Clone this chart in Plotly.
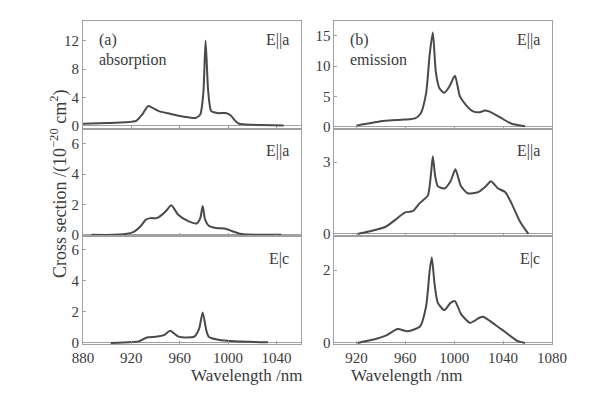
import plotly.graph_objects as go
from plotly.subplots import make_subplots

# (a) absorption, wavelength in nm
abs_a_x = [880, 900, 915, 924, 929, 934, 939, 944, 952, 960, 967, 973, 977, 979.5, 981.4, 983.5, 986, 991, 998, 1002, 1006, 1009, 1020, 1046]
abs_a_y = [0.3, 0.4, 0.5, 0.7, 1.6, 2.8, 2.4, 2.0, 1.7, 1.4, 1.2, 1.1, 1.6, 4.5, 12.0, 5.0, 2.1, 1.8, 1.8, 1.5, 0.7, 0.3, 0.15, 0.05]

abs_b_x = [887, 905, 915, 922, 928, 932, 936, 941, 945, 949, 953, 959, 967, 974, 977, 979, 981, 984, 990, 998, 1003, 1011, 1025, 1044]
abs_b_y = [0.0, 0.0, 0.05, 0.2, 0.6, 1.0, 1.1, 1.1, 1.3, 1.6, 1.95, 1.3, 0.9, 0.75, 1.1, 1.9, 1.0, 0.6, 0.45, 0.4, 0.25, 0.05, 0.0, 0.0]

abs_c_x = [903, 918, 926, 933, 940, 947, 952, 959, 966, 972, 976, 979, 982, 984, 992, 1006, 1033]
abs_c_y = [0.0, 0.05, 0.1, 0.35, 0.4, 0.5, 0.78, 0.4, 0.35, 0.4, 0.9, 1.96, 0.8, 0.4, 0.2, 0.1, 0.05]

# (b) emission
em_a_x = [920, 943, 959, 968, 972.6, 977, 980, 982.5, 985, 988, 992, 996, 1000.6, 1004.7, 1010, 1015, 1021, 1025, 1029, 1038, 1047, 1058]
em_a_y = [0.2, 1.0, 1.2, 1.4, 2.2, 5.5, 12.0, 15.5, 9.0, 6.3, 5.6, 6.6, 8.4, 5.0, 3.5, 2.6, 2.4, 2.7, 2.5, 1.5, 0.5, 0.1]

em_b_x = [921, 930, 944, 952, 960, 966, 972, 978.4, 981, 982.5, 984.5, 986.6, 992, 997, 1001, 1005.5, 1011, 1019.5, 1026, 1030, 1036, 1041.7, 1046.7, 1054, 1060.7]
em_b_y = [0.0, 0.1, 0.3, 0.6, 0.9, 0.95, 1.3, 1.6, 2.5, 3.25, 2.4, 2.0, 1.9, 2.2, 2.7, 2.0, 1.7, 1.75, 2.0, 2.2, 1.9, 1.75, 1.3, 0.5, 0.0]

em_c_x = [921, 935, 944, 953.7, 962, 972, 977, 980, 981.7, 984, 986.6, 992, 997, 1000.6, 1005.5, 1013, 1021, 1023.7, 1033.5, 1041.7, 1052, 1058]
em_c_y = [0.0, 0.1, 0.2, 0.38, 0.32, 0.45, 1.0, 2.0, 2.35, 1.6, 1.1, 0.9, 1.1, 1.15, 0.8, 0.55, 0.7, 0.72, 0.5, 0.3, 0.05, 0.0]

left_ticks = [880, 920, 960, 1000, 1040]
right_ticks = [920, 960, 1000, 1040, 1080]

FONT = "Liberation Serif, Times New Roman, DejaVu Serif, serif"
TXT = "#3a3a3a"
FRAME = "#a0a0a0"
LINE = "#4a4a4a"

fig = make_subplots(rows=3, cols=2, vertical_spacing=0, horizontal_spacing=0.072)

series = [
    (abs_a_x, abs_a_y, 1, 1), (abs_b_x, abs_b_y, 2, 1), (abs_c_x, abs_c_y, 3, 1),
    (em_a_x, em_a_y, 1, 2), (em_b_x, em_b_y, 2, 2), (em_c_x, em_c_y, 3, 2),
]
for xs, ys, r, c in series:
    fig.add_trace(go.Scatter(x=xs, y=ys, mode="lines", line=dict(color=LINE, width=2, shape="spline", smoothing=0.6),
                             showlegend=False, hoverinfo="skip"), row=r, col=c)

y_ranges = {(1, 1): ([-0.4, 14.8], [0, 4, 8, 12]), (2, 1): ([-0.1, 7.0], [0, 2, 4, 6]), (3, 1): ([-0.07, 6.85], [0, 2, 4, 6]),
            (1, 2): ([-0.3, 17.4], [0, 5, 10, 15]), (2, 2): ([-0.1, 4.4], [0, 3]), (3, 2): ([-0.03, 2.93], [0, 2])}

for (r, c), (rng, tv) in y_ranges.items():
    fig.update_yaxes(range=rng, tickvals=tv, row=r, col=c)
    if c == 1:
        fig.update_xaxes(range=[880, 1060], tickvals=left_ticks, showticklabels=(r == 3), row=r, col=c)
    else:
        fig.update_xaxes(range=[902, 1080], tickvals=right_ticks, showticklabels=(r == 3), row=r, col=c)

fig.update_xaxes(showline=True, mirror=True, linecolor=FRAME, linewidth=1, showgrid=False, zeroline=False,
                 ticks="inside", ticklen=3, tickcolor=FRAME, tickfont=dict(family=FONT, size=15, color=TXT))
fig.update_yaxes(showline=True, mirror=True, linecolor=FRAME, linewidth=1, showgrid=False,
                 zeroline=True, zerolinecolor=FRAME, zerolinewidth=1,
                 ticks="inside", ticklen=3, tickcolor=FRAME, tickfont=dict(family=FONT, size=15, color=TXT))

W, H = 600, 400
L, R, T, B = 75, 56, 13, 64
pw, ph = W - L - R, H - T - B


def px(x):
    return (x - L) / pw


def py(y):
    return (H - B - y) / ph


notes = [
    ("(a)", 89, 32, "left"), ("absorption", 89, 52, "left"),
    ("(b)", 340, 32, "left"), ("emission", 340, 52, "left"),
    ("E||a", 283, 32, "right"), ("E||a", 283, 143, "right"), ("E|c", 283, 251, "right"),
    ("E||a", 534, 32, "right"), ("E||a", 534, 143, "right"), ("E|c", 534, 251, "right"),
]
for text, x, y, anchor in notes:
    fig.add_annotation(text=text, x=px(x), y=py(y), xref="paper", yref="paper", xanchor=anchor, yanchor="middle",
                       showarrow=False, font=dict(family=FONT, size=16, color=TXT))

fig.add_annotation(text="Wavelength /nm", x=px(181), y=py(379), xref="paper", yref="paper", showarrow=False,
                   font=dict(family=FONT, size=17, color=TXT))
fig.add_annotation(text="Wavelength /nm", x=px(456), y=py(379), xref="paper", yref="paper", showarrow=False,
                   font=dict(family=FONT, size=17, color=TXT))
fig.add_annotation(text="Cross section /(10<sup>−20</sup> cm<sup>2</sup>)", x=px(37), y=py(176), xref="paper", yref="paper",
                   showarrow=False, textangle=-90, font=dict(family=FONT, size=18, color=TXT))

fig.update_layout(width=W, height=H, margin=dict(l=L, r=R, t=T, b=B), paper_bgcolor="white", plot_bgcolor="white")

fig.write_html("out.html")
